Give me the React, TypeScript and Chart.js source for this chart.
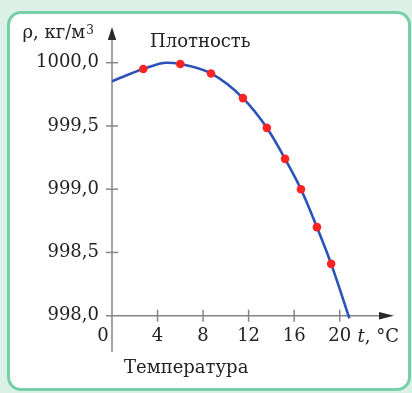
import React, { useEffect, useRef } from "react";
import { Chart, registerables } from "chart.js";

Chart.register(...registerables);

// Curve of density vs temperature
const curveT = [0, 2.75, 4.8, 6, 8.7, 11.5, 13.6, 15.2, 16.6, 18, 19.25, 20.85];
const curveRho = [999.854, 999.95, 1000.0, 999.99, 999.915, 999.72, 999.485, 999.24, 999.0, 998.7, 998.41, 997.98];

// Measured points (red dots)
const pointT = [2.75, 6, 8.7, 11.5, 13.6, 15.2, 16.6, 18, 19.25];
const pointRho = [999.95, 999.99, 999.915, 999.72, 999.485, 999.24, 999.0, 998.7, 998.41];

const xTicks = [0, 4, 8, 12, 16, 20];
const yTicks = [998.0, 998.5, 999.0, 999.5, 1000.0];

const yTitle = "ρ, кг/м";
const yTitleSup = "3";
const chartTitle = "Плотность";
const xTitle = "Температура";
const xUnitVar = "t";
const xUnit = ", °C";

const FONT = '"DejaVu Serif", serif';
const TEXT = "#222222";
const AXIS = "#858585";

const axesPlugin = {
  id: "handAxes",
  beforeDatasetsDraw(chart: any) {
    const ctx = chart.ctx;
    const xs = chart.scales.x;
    const ys = chart.scales.y;
    const x0 = xs.getPixelForValue(0);
    const y0 = ys.getPixelForValue(998);
    const yTop = ys.getPixelForValue(1000);
    const xEnd = xs.getPixelForValue(20);
    ctx.save();
    ctx.strokeStyle = AXIS;
    ctx.lineWidth = 1.5;
    ctx.beginPath();
    ctx.moveTo(x0, y0 + 36);
    ctx.lineTo(x0, yTop - 25);
    ctx.stroke();
    ctx.beginPath();
    ctx.moveTo(x0 - 6, y0);
    ctx.lineTo(xEnd + 42, y0);
    ctx.stroke();
    yTicks.forEach((v) => {
      if (v === 998) return;
      const p = ys.getPixelForValue(v);
      ctx.beginPath();
      ctx.moveTo(x0 - 6, p);
      ctx.lineTo(x0 + 6, p);
      ctx.stroke();
    });
    xTicks.forEach((v) => {
      if (v === 0) return;
      const p = xs.getPixelForValue(v);
      ctx.beginPath();
      ctx.moveTo(p, y0 - 6);
      ctx.lineTo(p, y0 + 6);
      ctx.stroke();
    });
    ctx.fillStyle = "#2a2a2a";
    const tipY = yTop - 35.7;
    ctx.beginPath();
    ctx.moveTo(x0, tipY);
    ctx.lineTo(x0 - 4.2, tipY + 13);
    ctx.lineTo(x0 + 4.2, tipY + 13);
    ctx.closePath();
    ctx.fill();
    const tipX = xEnd + 54.3;
    ctx.beginPath();
    ctx.moveTo(tipX, y0);
    ctx.lineTo(tipX - 15, y0 - 3.8);
    ctx.lineTo(tipX - 15, y0 + 3.8);
    ctx.closePath();
    ctx.fill();
    ctx.restore();
  },
  afterDraw(chart: any) {
    const ctx = chart.ctx;
    ctx.save();
    ctx.fillStyle = TEXT;
    ctx.textBaseline = "alphabetic";
    ctx.textAlign = "left";
    ctx.font = `18px ${FONT}`;
    ctx.fillText(yTitle, 22.5, 37.5);
    const w = ctx.measureText(yTitle).width;
    ctx.font = `12px ${FONT}`;
    ctx.fillText(yTitleSup, 22.5 + w + 1, 34);
    ctx.font = `18px ${FONT}`;
    ctx.fillText(chartTitle, 150, 46.5);
    ctx.fillText(xTitle, 124, 373);
    ctx.font = `italic 18px ${FONT}`;
    ctx.fillText(xUnitVar, 357.5, 342);
    const tw = ctx.measureText(xUnitVar).width;
    ctx.font = `18px ${FONT}`;
    ctx.fillText(xUnit, 357.5 + tw, 342);
    ctx.restore();
  },
};

export default function App() {
  const ref = useRef<HTMLCanvasElement | null>(null);

  useEffect(() => {
    document.body.style.margin = "0";
    const canvas = ref.current!;
    const chart = new Chart(canvas, {
      type: "scatter",
      data: {
        datasets: [
          {
            label: "points",
            data: pointT.map((t, i) => ({ x: t, y: pointRho[i] })),
            pointRadius: 4.3,
            pointBackgroundColor: "#ff2424",
            pointBorderWidth: 0,
            showLine: false,
            clip: false,
          } as any,
          {
            label: "curve",
            data: curveT.map((t, i) => ({ x: t, y: curveRho[i] })),
            showLine: true,
            borderColor: "#2a52b8",
            borderWidth: 2.6,
            pointRadius: 0,
            cubicInterpolationMode: "monotone",
            fill: false,
            clip: false,
          } as any,
        ],
      },
      options: {
        animation: false,
        responsive: false,
        devicePixelRatio: 1,
        layout: { padding: { left: 0, top: 62.7, right: 72.3, bottom: 0 } },
        plugins: {
          legend: { display: false },
          tooltip: { enabled: false },
          title: { display: false },
        },
        scales: {
          x: {
            type: "linear",
            min: 0,
            max: 20,
            grid: { display: false, drawTicks: false },
            border: { display: false },
            afterBuildTicks: (s: any) => {
              s.ticks = xTicks.map((v) => ({ value: v }));
            },
            afterFit: (s: any) => {
              s.height = 393 - 315.7;
            },
            ticks: {
              autoSkip: false,
              maxRotation: 0,
              padding: 10,
              color: TEXT,
              font: { family: FONT, size: 18 },
              callback: (v: any) => (v === 0 ? "0\u2002\u2002" : String(v)),
            },
          },
          y: {
            type: "linear",
            min: 998,
            max: 1000,
            grid: { display: false, drawTicks: false },
            border: { display: false },
            afterBuildTicks: (s: any) => {
              s.ticks = yTicks.map((v) => ({ value: v }));
            },
            afterFit: (s: any) => {
              s.width = 112;
            },
            ticks: {
              autoSkip: false,
              padding: 13,
              color: TEXT,
              font: { family: FONT, size: 18 },
              callback: (v: any) => Number(v).toFixed(1).replace(".", ","),
            },
          },
        },
      } as any,
      plugins: [axesPlugin],
    });
    return () => chart.destroy();
  }, []);

  return (
    <div style={{ position: "fixed", left: 0, top: 0, width: 412, height: 393, background: "#dbf1e7", overflow: "hidden" }}>
      <div
        style={{
          position: "absolute",
          left: 7,
          top: 11,
          width: 404,
          height: 380,
          boxSizing: "border-box",
          border: "3px solid #77cfa6",
          borderRadius: 14,
          background: "#ffffff",
        }}
      />
      <canvas ref={ref} width={412} height={393} style={{ position: "absolute", left: 0, top: 0, width: 412, height: 393 }} />
    </div>
  );
}
